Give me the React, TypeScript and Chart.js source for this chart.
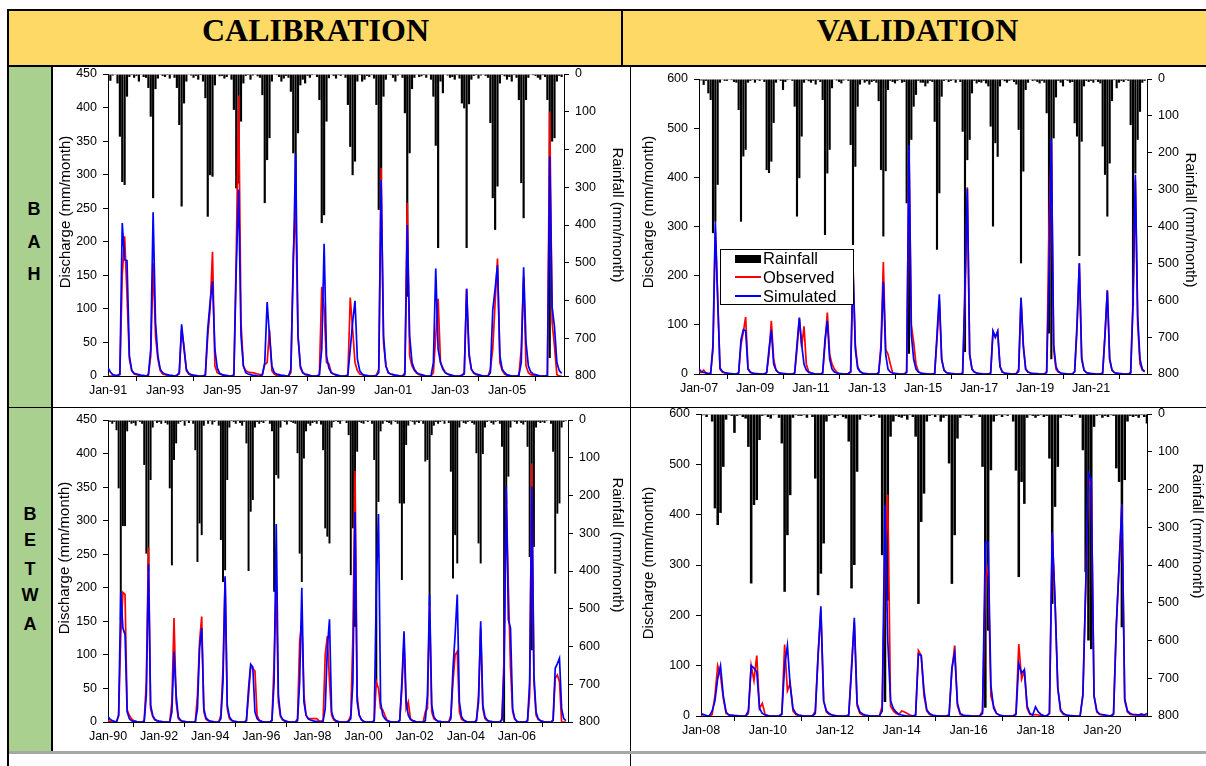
import React, { useEffect, useRef } from 'react';
import { Chart, registerables } from 'chart.js';

Chart.register(...registerables);

const FONT = "'Liberation Sans', Arial, sans-serif";

// ---------------- BAH calibration (Jan-1991 .. Dec-2006) ----------------
const bahCalXLabels = ['Jan-91', 'Jan-93', 'Jan-95', 'Jan-97', 'Jan-99', 'Jan-01', 'Jan-03', 'Jan-05'];
const bahCalRain = [
  12, 18, 4, 2, 25, 166, 286, 294, 60, 8, 3, 10,
  5, 20, 2, 8, 10, 37, 113, 329, 40, 12, 2, 5,
  8, 3, 12, 2, 10, 37, 135, 351, 78, 20, 2, 4,
  10, 5, 15, 3, 20, 64, 378, 268, 272, 30, 2, 6,
  5, 12, 8, 2, 15, 95, 303, 290, 126, 25, 5, 3,
  15, 4, 2, 6, 10, 56, 342, 228, 170, 20, 2, 3,
  8, 20, 12, 5, 10, 47, 210, 420, 157, 30, 15, 25,
  5, 10, 3, 2, 8, 69, 395, 374, 126, 11, 2, 5,
  12, 3, 5, 2, 10, 82, 193, 268, 232, 20, 3, 20,
  15, 5, 8, 3, 12, 82, 360, 280, 60, 15, 2, 3,
  10, 20, 4, 2, 10, 104, 590, 210, 40, 10, 2, 8,
  6, 3, 10, 2, 15, 60, 190, 461, 20, 51, 2, 4,
  10, 8, 15, 3, 12, 78, 91, 461, 80, 15, 5, 3,
  12, 4, 2, 5, 10, 130, 329, 413, 298, 25, 3, 6,
  15, 8, 20, 3, 10, 69, 289, 382, 69, 10, 2, 3,
  5, 10, 15, 3, 8, 69, 752, 179, 170, 20, 5, 8,
];
const bahCalObs = [
  0, 0, 0, 0, 0, 2, 150, 208, 120, 25, 8, 3,
  2, 1, 0, 0, 0, 1, 30, 168, 60, 25, 8, 3,
  2, 1, 0, 0, 0, 1, 3, 70, 45, 8, 3, 1,
  1, 0, 0, 0, 0, 1, 60, 100, 185, 15, 5, 3,
  2, 1, 0, 0, 0, 1, 180, 418, 80, 15, 8, 6,
  5, 5, 4, 3, 2, 2, 17, 20, 69, 8, 3, 1,
  1, 0, 0, 0, 0, 5, 180, 252, 60, 12, 5, 2,
  1, 0, 0, 0, 0, 2, 133, 100, 20, 18, 5, 3,
  1, 0, 0, 0, 0, 1, 117, 70, 20, 8, 3, 2,
  1, 0, 0, 0, 0, 1, 10, 310, 50, 15, 5, 3,
  2, 1, 0, 0, 0, 5, 258, 30, 15, 8, 4, 2,
  1, 0, 0, 0, 0, 5, 60, 115, 20, 12, 5, 3,
  1, 0, 0, 0, 0, 1, 5, 130, 30, 10, 4, 2,
  1, 0, 0, 0, 0, 10, 40, 110, 175, 20, 8, 3,
  1, 0, 0, 0, 0, 1, 40, 148, 15, 5, 2, 1,
  0, 0, 0, 0, 0, 0, 394, 80, 44, 2, 0, 0,
];
const bahCalSim = [
  12, 6, 2, 1, 1, 3, 228, 173, 172, 30, 8, 4,
  3, 2, 1, 1, 0, 2, 40, 244, 80, 30, 10, 5,
  3, 2, 1, 1, 0, 1, 5, 77, 40, 10, 4, 2,
  1, 1, 0, 0, 0, 2, 70, 110, 141, 40, 12, 4,
  2, 1, 1, 0, 0, 2, 160, 278, 60, 15, 5, 3,
  2, 1, 1, 0, 0, 2, 20, 110, 60, 15, 5, 3,
  2, 1, 1, 0, 0, 10, 160, 331, 60, 15, 5, 3,
  2, 1, 0, 0, 0, 2, 40, 197, 30, 12, 5, 3,
  2, 1, 0, 0, 0, 2, 40, 80, 112, 25, 8, 3,
  1, 1, 0, 0, 0, 1, 5, 292, 60, 15, 5, 3,
  2, 1, 1, 0, 0, 2, 225, 60, 20, 10, 5, 3,
  2, 1, 0, 0, 0, 20, 160, 40, 20, 10, 5, 3,
  2, 1, 0, 0, 0, 1, 3, 130, 35, 10, 5, 3,
  2, 1, 0, 0, 0, 5, 98, 130, 165, 30, 10, 5,
  2, 1, 0, 0, 0, 1, 20, 162, 50, 15, 6, 3,
  2, 1, 0, 0, 0, 1, 327, 103, 73, 20, 8, 4,
];

// ---------------- BAH validation (Jan-2007 .. Dec-2022) ----------------
const bahValXLabels = ['Jan-07', 'Jan-09', 'Jan-11', 'Jan-13', 'Jan-15', 'Jan-17', 'Jan-19', 'Jan-21'];
const bahValRain = [
  8, 4, 16, 5, 39, 57, 418, 387, 287, 10, 2, 5,
  5, 2, 3, 8, 10, 84, 387, 210, 192, 10, 5, 3,
  10, 3, 5, 2, 8, 247, 255, 224, 119, 10, 2, 5,
  30, 8, 3, 2, 5, 75, 373, 269, 156, 10, 3, 6,
  10, 5, 15, 3, 8, 57, 423, 256, 192, 25, 2, 4,
  8, 12, 4, 2, 5, 179, 450, 238, 75, 15, 3, 10,
  6, 15, 8, 5, 10, 60, 247, 427, 250, 30, 5, 8,
  12, 5, 3, 10, 8, 337, 745, 165, 75, 43, 5, 10,
  10, 20, 12, 5, 8, 116, 463, 310, 48, 5, 3, 8,
  5, 3, 10, 2, 8, 143, 740, 220, 165, 39, 5, 12,
  8, 10, 5, 12, 20, 129, 400, 174, 211, 20, 3, 6,
  10, 5, 3, 8, 15, 138, 500, 251, 30, 10, 2, 5,
  4, 8, 12, 5, 10, 93, 690, 760, 161, 50, 5, 10,
  20, 3, 5, 10, 8, 120, 156, 480, 170, 20, 5, 8,
  5, 10, 3, 8, 12, 183, 260, 373, 229, 60, 3, 25,
  10, 5, 8, 3, 5, 125, 615, 256, 165, 89, 10, 5,
];
const bahValObs = [
  5, 3, 8, 2, 1, 2, 50, 290, 160, 10, 4, 2,
  1, 1, 0, 0, 0, 3, 60, 85, 116, 12, 3, 1,
  1, 0, 0, 0, 0, 3, 40, 108, 30, 8, 3, 1,
  1, 0, 0, 0, 0, 2, 50, 113, 55, 97, 20, 5,
  2, 1, 0, 0, 0, 2, 60, 125, 40, 20, 10, 4,
  1, 0, 0, 0, 1, 3, 222, 60, 15, 5, 2, 1,
  0, 0, 0, 0, 0, 3, 60, 228, 50, 40, 20, 2,
  1, 0, 0, 0, 0, 5, 455, 100, 65, 20, 5, 2,
  1, 0, 0, 0, 0, 1, 70, 150, 30, 8, 3, 1,
  1, 0, 0, 0, 0, 2, 150, 380, 40, 10, 4, 2,
  1, 0, 0, 0, 0, 2, 87, 75, 87, 15, 4, 2,
  1, 0, 0, 0, 1, 10, 155, 60, 10, 4, 2, 1,
  1, 0, 0, 0, 0, 5, 300, 470, 50, 10, 4, 2,
  1, 0, 0, 0, 0, 5, 90, 225, 35, 8, 3, 1,
  1, 0, 0, 0, 0, 2, 80, 170, 30, 8, 3, 1,
  1, 0, 0, 0, 0, 3, 150, 395, 100, 20, 8, 5,
];
const bahValSim = [
  10, 5, 3, 2, 1, 1, 60, 310, 150, 12, 5, 3,
  2, 1, 1, 0, 0, 2, 70, 90, 88, 10, 4, 2,
  1, 1, 0, 0, 0, 3, 50, 90, 20, 8, 3, 2,
  1, 1, 0, 0, 0, 2, 60, 115, 60, 20, 8, 3,
  2, 1, 0, 0, 0, 2, 70, 108, 30, 10, 4, 2,
  1, 1, 0, 0, 1, 5, 213, 50, 12, 5, 2, 1,
  1, 0, 0, 0, 0, 2, 50, 188, 40, 10, 4, 2,
  1, 1, 0, 0, 0, 3, 465, 80, 30, 10, 4, 2,
  1, 1, 0, 0, 0, 1, 80, 162, 30, 8, 3, 2,
  1, 1, 0, 0, 0, 2, 180, 377, 40, 10, 4, 2,
  1, 1, 0, 0, 0, 2, 87, 75, 87, 15, 4, 2,
  1, 1, 0, 0, 1, 5, 155, 55, 10, 4, 2, 1,
  1, 1, 0, 0, 0, 3, 200, 478, 60, 15, 5, 2,
  1, 1, 0, 0, 0, 5, 100, 225, 30, 8, 3, 2,
  1, 1, 0, 0, 0, 2, 80, 170, 30, 8, 3, 2,
  1, 1, 0, 0, 0, 2, 140, 405, 120, 30, 10, 5,
];

// ---------------- BETWA calibration (Jan-1990 .. Dec-2007) ----------------
const betwaCalXLabels = ['Jan-90', 'Jan-92', 'Jan-94', 'Jan-96', 'Jan-98', 'Jan-00', 'Jan-02', 'Jan-04', 'Jan-06'];
const betwaCalRain = [
  20, 5, 10, 5, 27, 181, 530, 281, 281, 30, 5, 10,
  8, 15, 3, 5, 10, 119, 354, 402, 159, 20, 3, 8,
  5, 10, 2, 8, 12, 181, 385, 106, 62, 10, 5, 3,
  15, 3, 8, 2, 10, 80, 376, 274, 305, 15, 2, 10,
  3, 12, 5, 2, 15, 318, 429, 398, 159, 20, 3, 5,
  10, 3, 8, 15, 5, 62, 400, 243, 212, 20, 5, 10,
  5, 8, 3, 2, 10, 30, 455, 146, 155, 20, 3, 5,
  12, 3, 5, 8, 10, 88, 354, 429, 102, 30, 10, 15,
  8, 5, 10, 3, 12, 80, 287, 309, 327, 20, 5, 3,
  5, 10, 3, 2, 8, 40, 411, 287, 548, 84, 5, 8,
  10, 3, 5, 2, 10, 106, 698, 217, 30, 10, 3, 5,
  8, 12, 3, 5, 10, 221, 424, 221, 66, 15, 3, 5,
  12, 5, 8, 3, 10, 110, 106, 491, 40, 15, 5, 10,
  5, 3, 10, 2, 8, 137, 420, 305, 380, 20, 3, 8,
  10, 5, 3, 8, 12, 88, 327, 380, 90, 20, 5, 3,
  8, 12, 5, 3, 10, 71, 810, 221, 150, 20, 3, 5,
  10, 3, 8, 12, 5, 71, 363, 610, 336, 20, 5, 8,
  5, 8, 3, 2, 10, 84, 407, 248, 221, 20, 5, 3,
];
const betwaCalObs = [
  2, 1, 0, 0, 0, 10, 130, 193, 190, 18, 10, 5,
  2, 1, 0, 0, 0, 2, 60, 260, 20, 8, 3, 2,
  1, 0, 0, 0, 0, 0, 30, 155, 30, 5, 2, 1,
  0, 0, 0, 0, 0, 0, 40, 120, 157, 15, 4, 2,
  1, 0, 0, 0, 0, 10, 80, 215, 20, 5, 2, 1,
  0, 0, 0, 0, 0, 2, 40, 82, 80, 76, 10, 3,
  1, 0, 0, 0, 0, 3, 90, 200, 30, 8, 3, 1,
  0, 0, 0, 0, 0, 5, 120, 150, 40, 10, 5, 5,
  5, 5, 5, 2, 1, 2, 100, 128, 60, 10, 3, 1,
  0, 0, 0, 0, 0, 2, 10, 128, 374, 40, 10, 4,
  1, 0, 0, 0, 0, 2, 60, 50, 20, 18, 10, 3,
  1, 0, 0, 0, 0, 3, 50, 120, 20, 30, 5, 2,
  1, 0, 0, 0, 0, 15, 20, 175, 15, 5, 3, 1,
  0, 0, 0, 0, 0, 10, 60, 100, 105, 15, 4, 2,
  1, 0, 0, 0, 0, 2, 40, 140, 20, 5, 2, 1,
  0, 0, 0, 0, 0, 5, 100, 340, 200, 80, 15, 4,
  1, 0, 0, 0, 0, 2, 40, 385, 60, 10, 4, 2,
  1, 0, 0, 0, 0, 2, 65, 70, 60, 0, 0, 0,
];
const betwaCalSim = [
  8, 4, 2, 1, 0, 10, 193, 140, 130, 15, 5, 2,
  1, 1, 0, 0, 0, 1, 40, 235, 25, 10, 4, 2,
  1, 1, 0, 0, 0, 0, 15, 105, 40, 8, 3, 1,
  1, 0, 0, 0, 0, 0, 20, 110, 140, 20, 6, 3,
  1, 1, 0, 0, 0, 5, 60, 217, 25, 8, 3, 1,
  1, 0, 0, 0, 0, 2, 50, 86, 82, 15, 5, 2,
  1, 0, 0, 0, 0, 2, 60, 295, 40, 10, 4, 2,
  1, 0, 0, 0, 0, 2, 60, 200, 30, 10, 5, 3,
  2, 1, 1, 0, 0, 1, 20, 110, 153, 15, 5, 2,
  1, 0, 0, 0, 0, 1, 5, 60, 313, 30, 10, 3,
  1, 0, 0, 0, 0, 2, 200, 310, 30, 10, 5, 2,
  1, 0, 0, 0, 0, 2, 60, 135, 30, 10, 4, 2,
  1, 0, 0, 0, 0, 2, 40, 190, 25, 8, 3, 1,
  1, 0, 0, 0, 0, 5, 80, 130, 190, 30, 8, 3,
  1, 0, 0, 0, 0, 2, 30, 150, 25, 8, 3, 1,
  1, 0, 0, 0, 0, 3, 80, 351, 152, 140, 20, 5,
  1, 0, 0, 0, 0, 2, 60, 351, 70, 15, 5, 2,
  1, 0, 0, 0, 0, 3, 80, 87, 95, 20, 5, 2,
];

// ---------------- BETWA validation (Jan-2008 .. May-2021) ----------------
const betwaValXLabels = ['Jan-08', 'Jan-10', 'Jan-12', 'Jan-14', 'Jan-16', 'Jan-18', 'Jan-20'];
const betwaValRain = [
  5, 3, 8, 2, 20, 250, 294, 262, 140, 15, 3, 5,
  50, 5, 3, 8, 12, 87, 449, 241, 228, 69, 5, 3,
  8, 12, 3, 2, 10, 78, 471, 321, 215, 10, 3, 5,
  5, 3, 10, 2, 8, 171, 480, 423, 343, 20, 5, 3,
  10, 5, 3, 8, 12, 73, 462, 400, 153, 15, 3, 5,
  3, 8, 5, 2, 10, 374, 763, 494, 60, 20, 5, 8,
  10, 5, 15, 3, 8, 60, 503, 286, 211, 20, 5, 3,
  8, 3, 20, 10, 5, 131, 450, 321, 65, 10, 3, 5,
  5, 10, 3, 2, 8, 140, 778, 574, 149, 20, 5, 3,
  8, 3, 5, 2, 20, 150, 432, 180, 238, 10, 3, 5,
  10, 5, 3, 8, 5, 118, 503, 246, 140, 10, 3, 5,
  5, 8, 3, 2, 10, 96, 419, 600, 623, 34, 5, 3,
  10, 5, 8, 3, 5, 144, 180, 565, 175, 20, 5, 8,
  5, 10, 3, 8, 25,
];
const betwaValObs = [
  0, 0, 0, 0, 3, 40, 100, 80, 35, 5, 2, 1,
  1, 0, 0, 0, 0, 5, 100, 70, 120, 15, 25, 3,
  1, 0, 0, 0, 0, 5, 142, 50, 65, 10, 3, 1,
  1, 0, 0, 0, 0, 10, 120, 210, 30, 8, 3, 2,
  1, 0, 0, 0, 0, 2, 100, 185, 20, 5, 2, 1,
  0, 0, 0, 0, 0, 20, 300, 440, 20, 10, 5, 3,
  10, 8, 5, 2, 0, 2, 130, 120, 40, 10, 3, 1,
  0, 0, 0, 0, 0, 3, 90, 140, 20, 3, 1, 0,
  0, 0, 0, 0, 0, 10, 270, 300, 40, 20, 5, 2,
  0, 0, 0, 0, 0, 5, 143, 73, 90, 15, 3, 2,
  3, 2, 1, 0, 0, 5, 360, 230, 55, 10, 3, 2,
  1, 0, 0, 0, 0, 40, 250, 470, 460, 40, 8, 3,
  2, 1, 0, 0, 5, 180, 300, 420, 30, 8, 3, 2,
  2, 1, 1, 0, 0,
];
const betwaValSim = [
  5, 3, 1, 0, 10, 30, 75, 100, 40, 8, 2, 2,
  1, 1, 0, 0, 0, 10, 100, 95, 88, 15, 5, 2,
  1, 0, 0, 0, 0, 3, 100, 140, 60, 15, 5, 2,
  1, 0, 0, 0, 0, 5, 120, 218, 30, 10, 5, 2,
  1, 0, 0, 0, 0, 2, 90, 195, 25, 8, 4, 2,
  1, 0, 0, 0, 0, 10, 420, 150, 30, 15, 8, 3,
  2, 1, 0, 0, 0, 2, 123, 120, 50, 12, 5, 2,
  1, 0, 0, 0, 0, 1, 95, 126, 25, 5, 2, 1,
  1, 0, 0, 0, 0, 5, 345, 345, 60, 15, 5, 2,
  1, 0, 0, 0, 0, 3, 104, 85, 92, 20, 5, 2,
  18, 8, 3, 1, 0, 5, 365, 230, 56, 12, 5, 2,
  1, 1, 0, 0, 0, 43, 256, 482, 470, 40, 10, 4,
  3, 2, 1, 0, 3, 180, 300, 420, 35, 10, 5, 3,
  3, 2, 4, 2, 5,
];

type Box = { left: number; top: number; width: number; height: number };
type Plot = { left: number; right: number; top: number; bottom: number };
type Panel = {
  rain: number[];
  obs: number[];
  sim: number[];
  xLabels: string[];
  xMax: number;
  yMax: number;
  yStep: number;
  canvas: Box;
  plot: Plot;
};

const panels: Panel[] = [
  {
    rain: bahCalRain, obs: bahCalObs, sim: bahCalSim, xLabels: bahCalXLabels,
    xMax: 192, yMax: 450, yStep: 50,
    canvas: { left: 53, top: 54, width: 576, height: 357 },
    plot: { left: 108, right: 564, top: 74, bottom: 376 },
  },
  {
    rain: bahValRain, obs: bahValObs, sim: bahValSim, xLabels: bahValXLabels,
    xMax: 192, yMax: 600, yStep: 100,
    canvas: { left: 631, top: 59, width: 575, height: 350 },
    plot: { left: 699, right: 1147, top: 79, bottom: 374 },
  },
  {
    rain: betwaCalRain, obs: betwaCalObs, sim: betwaCalSim, xLabels: betwaCalXLabels,
    xMax: 216, yMax: 450, yStep: 50,
    canvas: { left: 53, top: 400, width: 576, height: 352 },
    plot: { left: 108, right: 568, top: 420, bottom: 722 },
  },
  {
    rain: betwaValRain, obs: betwaValObs, sim: betwaValSim, xLabels: betwaValXLabels,
    xMax: 160, yMax: 600, yStep: 100,
    canvas: { left: 631, top: 394, width: 575, height: 357 },
    plot: { left: 701, right: 1147, top: 414, bottom: 716 },
  },
];

function ChartPanel({ p }: { p: Panel }) {
  const ref = useRef<HTMLCanvasElement>(null);
  useEffect(() => {
    const c = ref.current;
    if (!c) return;
    const xy = (a: number[]) => a.map((v, i) => ({ x: i, y: v }));
    const leftW = p.plot.left - p.canvas.left;
    const rightW = p.canvas.left + p.canvas.width - p.plot.right;
    const bottomH = p.canvas.top + p.canvas.height - p.plot.bottom;
    const topPad = p.plot.top - p.canvas.top;
    const tickFont = { family: FONT, size: 12.5 };
    const grid = {
      display: true,
      drawOnChartArea: false,
      drawTicks: true,
      tickLength: 5,
      color: '#000',
      lineWidth: 1,
    };
    const border = { display: true, color: '#000', width: 1 };
    const chart = new Chart(c, {
      type: 'bar',
      data: {
        datasets: [
          {
            type: 'bar',
            label: 'Rainfall',
            data: xy(p.rain),
            yAxisID: 'y2',
            backgroundColor: '#000',
            borderWidth: 0,
            barPercentage: 0.92,
            categoryPercentage: 1,
            inflateAmount: 0,
            order: 2,
          },
          {
            type: 'line',
            label: 'Observed',
            data: xy(p.obs),
            yAxisID: 'y',
            borderColor: '#FF0000',
            borderWidth: 1.7,
            pointRadius: 0,
            tension: 0,
            fill: false,
            order: 1,
          },
          {
            type: 'line',
            label: 'Simulated',
            data: xy(p.sim),
            yAxisID: 'y',
            borderColor: '#0000FF',
            borderWidth: 1.7,
            pointRadius: 0,
            tension: 0,
            fill: false,
            order: 0,
          },
        ] as any,
      },
      options: {
        animation: false,
        responsive: false,
        maintainAspectRatio: false,
        devicePixelRatio: 1,
        events: [],
        layout: { padding: { top: topPad, left: 0, right: 0, bottom: 0 } },
        plugins: {
          legend: { display: false },
          tooltip: { enabled: false },
          title: { display: false },
        },
        scales: {
          x: {
            type: 'linear',
            min: 0,
            max: p.xMax,
            offset: false,
            grid,
            border,
            ticks: {
              stepSize: 24,
              autoSkip: false,
              maxRotation: 0,
              minRotation: 0,
              includeBounds: false,
              padding: 2,
              color: '#000',
              font: tickFont,
              callback: (v: any) => {
                const k = Number(v) / 24;
                return Number.isInteger(k) && k < p.xLabels.length ? p.xLabels[k] : '';
              },
            },
            afterFit: (s: any) => {
              s.height = bottomH;
            },
          },
          y: {
            type: 'linear',
            position: 'left',
            min: 0,
            max: p.yMax,
            grid,
            border,
            ticks: { stepSize: p.yStep, autoSkip: false, padding: 6, color: '#000', font: tickFont },
            afterFit: (s: any) => {
              s.width = leftW;
            },
          },
          y2: {
            type: 'linear',
            position: 'right',
            reverse: true,
            min: 0,
            max: 800,
            grid,
            border,
            ticks: { stepSize: 100, autoSkip: false, padding: 6, color: '#000', font: tickFont },
            afterFit: (s: any) => {
              s.width = rightW;
            },
          },
        },
      } as any,
    });
    return () => chart.destroy();
  }, [p]);
  return (
    <canvas
      ref={ref}
      width={p.canvas.width}
      height={p.canvas.height}
      style={{
        position: 'absolute',
        left: p.canvas.left,
        top: p.canvas.top,
        width: p.canvas.width,
        height: p.canvas.height,
      }}
    />
  );
}

function VTitle({ x, y, text, rot }: { x: number; y: number; text: string; rot: number }) {
  return (
    <div
      style={{
        position: 'absolute',
        left: x,
        top: y,
        transform: `translate(-50%, -50%) rotate(${rot}deg)`,
        whiteSpace: 'nowrap',
        fontFamily: FONT,
        fontSize: 15,
        lineHeight: '18px',
        color: '#000',
      }}
    >
      {text}
    </div>
  );
}

function Line({ l, t, w, h, c = '#000' }: { l: number; t: number; w: number; h: number; c?: string }) {
  return <div style={{ position: 'absolute', left: l, top: t, width: w, height: h, background: c }} />;
}

function Letter({ ch, cx, cy }: { ch: string; cx: number; cy: number }) {
  return (
    <div
      style={{
        position: 'absolute',
        left: cx - 15,
        top: cy - 8.8,
        width: 30,
        height: 18,
        lineHeight: '18px',
        textAlign: 'center',
        fontFamily: FONT,
        fontWeight: 'bold',
        fontSize: 18,
        color: '#000',
      }}
    >
      {ch}
    </div>
  );
}

const headerStyle: React.CSSProperties = {
  position: 'absolute',
  top: 14,
  height: 32,
  lineHeight: '32px',
  textAlign: 'center',
  fontFamily: "'Liberation Serif', 'Times New Roman', serif",
  fontWeight: 'bold',
  fontSize: 32,
  color: '#000',
};

export default function App() {
  const bah = ['B', 'A', 'H'];
  const bahY = [208.3, 241.7, 274.2];
  const betwa = ['B', 'E', 'T', 'W', 'A'];
  const betwaY = [513.3, 540, 568.3, 595, 623.3];
  return (
    <div
      style={{
        position: 'absolute',
        left: 0,
        top: 0,
        width: 1206,
        height: 766,
        overflow: 'hidden',
        background: '#fff',
      }}
    >
      {/* table backgrounds */}
      <div style={{ position: 'absolute', left: 9, top: 11, width: 1197, height: 54, background: '#FFD966' }} />
      <div style={{ position: 'absolute', left: 9, top: 67, width: 42, height: 685, background: '#A9D08E' }} />

      {/* table lines */}
      <Line l={7} t={9} w={1199} h={2} />
      <Line l={7} t={9} w={2} h={757} />
      <Line l={7} t={65} w={1199} h={2} />
      <Line l={621} t={9} w={2} h={57} />
      <Line l={51} t={66} w={1.5} h={686} />
      <Line l={7} t={406.5} w={1199} h={1.5} />
      <Line l={629.5} t={66} w={1.5} h={700} />
      <Line l={9} t={751} w={1197} h={2.5} c="#A6A6A6" />

      {/* headers */}
      <div style={{ ...headerStyle, left: 9, width: 613 }}>CALIBRATION</div>
      <div style={{ ...headerStyle, left: 623, width: 589 }}>VALIDATION</div>

      {/* row labels */}
      {bah.map((ch, i) => (
        <Letter key={'bah' + i} ch={ch} cx={34} cy={bahY[i]} />
      ))}
      {betwa.map((ch, i) => (
        <Letter key={'betwa' + i} ch={ch} cx={30} cy={betwaY[i]} />
      ))}

      {/* charts */}
      {panels.map((p, i) => (
        <ChartPanel key={i} p={p} />
      ))}

      {/* axis titles */}
      <VTitle x={64.5} y={212} text="Discharge (mm/month)" rot={-90} />
      <VTitle x={617.5} y={215} text="Rainfall (mm/month)" rot={90} />
      <VTitle x={648} y={212} text="Discharge (mm/month)" rot={-90} />
      <VTitle x={1191} y={220} text="Rainfall (mm/month)" rot={90} />
      <VTitle x={64} y={558} text="Discharge (mm/month)" rot={-90} />
      <VTitle x={617.5} y={545} text="Rainfall (mm/month)" rot={90} />
      <VTitle x={648} y={563} text="Discharge (mm/month)" rot={-90} />
      <VTitle x={1198} y={531} text="Rainfall (mm/month)" rot={90} />

      {/* legend */}
      <div
        style={{
          position: 'absolute',
          left: 720,
          top: 249,
          width: 134,
          height: 56,
          border: '1px solid #000',
          boxSizing: 'border-box',
          background: '#fff',
        }}
      >
        <div style={{ position: 'absolute', left: 14, top: 5, width: 26, height: 8, background: '#000' }} />
        <div style={{ position: 'absolute', left: 14, top: 26, width: 26, height: 1.7, background: '#FF0000' }} />
        <div style={{ position: 'absolute', left: 14, top: 45, width: 26, height: 1.7, background: '#0000FF' }} />
        {['Rainfall', 'Observed', 'Simulated'].map((t, i) => (
          <div
            key={t}
            style={{
              position: 'absolute',
              left: 42,
              top: -2 + i * 19,
              height: 20,
              lineHeight: '20px',
              fontFamily: FONT,
              fontSize: 16.5,
              color: '#000',
              whiteSpace: 'nowrap',
            }}
          >
            {t}
          </div>
        ))}
      </div>
    </div>
  );
}
